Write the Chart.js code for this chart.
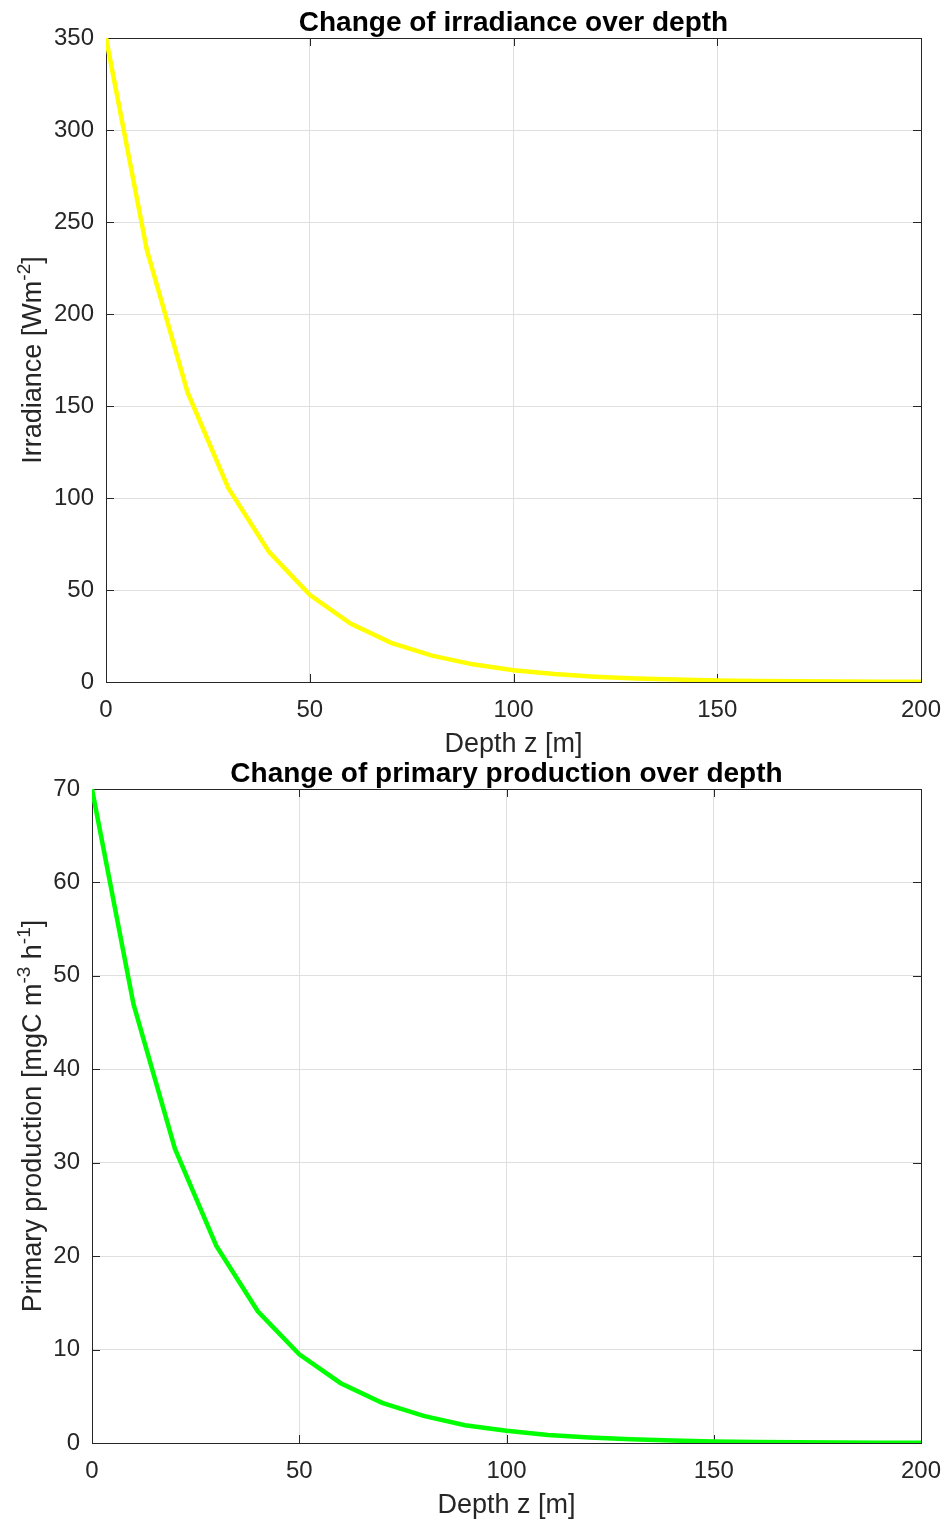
<html>
<head>
<script src="https://cdn.jsdelivr.net/npm/chart.js@4.4.0/dist/chart.umd.min.js"></script>
<style>
  body { margin: 0; background: #fff; }
  #wrap { position: relative; width: 949px; height: 1523px; }
  canvas { position: absolute; left: 0; top: 0; }
</style>
</head>
<body>
<div id="wrap">
  <canvas id="irrChart" width="949" height="1523"></canvas>
  <canvas id="ppChart" width="949" height="1523"></canvas>
</div>
<script>
  // depth in metres
  var depth = [0, 10, 20, 30, 40, 50, 60, 70, 80, 90, 100, 110, 120, 130, 140, 150, 160, 170, 180, 190, 200];
  // irradiance [W m-2]
  var irradiance = [350, 235, 157.5, 105.5, 70.7, 47.4, 31.8, 21.3, 14.3, 9.6, 6.4, 4.3, 2.9, 1.9, 1.3, 0.87, 0.58, 0.39, 0.26, 0.17, 0.12];
  // primary production [mgC m-3 h-1]
  var production = [70, 47, 31.5, 21.1, 14.1, 9.5, 6.4, 4.3, 2.9, 1.9, 1.3, 0.86, 0.58, 0.39, 0.26, 0.17, 0.12, 0.08, 0.05, 0.03, 0.02];

  var depthTicks = [0, 50, 100, 150, 200];
  var irrTicks = [0, 50, 100, 150, 200, 250, 300, 350];
  var ppTicks = [0, 10, 20, 30, 40, 50, 60, 70];

  var FONT = '"Liberation Sans", Arial, Helvetica, sans-serif';
  var AXCOL = '#262626';
  var XAX_H = 70;

  // matlab looking axes: full box, inner ticks, title and labels
  var matlabAxes = {
    id: 'matlabAxes',
    beforeDatasetsDraw(chart, args, opts) {
      var ctx = chart.ctx, a = chart.chartArea;
      var x = chart.scales.x, y = chart.scales.y;
      ctx.save();
      ctx.strokeStyle = AXCOL;
      ctx.lineWidth = 1;
      ctx.beginPath();
      x.ticks.forEach(function (t) {
        var px = Math.round(x.getPixelForValue(t.value)) + 0.5;
        ctx.moveTo(px, a.bottom); ctx.lineTo(px, a.bottom - 8);
        ctx.moveTo(px, a.top); ctx.lineTo(px, a.top + 8);
      });
      y.ticks.forEach(function (t) {
        var py = Math.round(y.getPixelForValue(t.value)) + 0.5;
        ctx.moveTo(a.left, py); ctx.lineTo(a.left + 8, py);
        ctx.moveTo(a.right, py); ctx.lineTo(a.right - 8, py);
      });
      ctx.stroke();
      ctx.strokeRect(Math.round(a.left) + 0.5, Math.round(a.top) + 0.5, Math.round(a.width), Math.round(a.height));
      ctx.restore();
    },
    afterDraw(chart, args, opts) {
      var ctx = chart.ctx, a = chart.chartArea;
      var cx = (a.left + a.right) / 2, cy = (a.top + a.bottom) / 2;
      ctx.save();
      ctx.textAlign = 'center';
      ctx.textBaseline = 'alphabetic';
      ctx.fillStyle = '#000';
      ctx.font = 'bold 28px ' + FONT;
      ctx.fillText(opts.title, cx, a.top - 7);
      ctx.fillStyle = AXCOL;
      ctx.font = '27px ' + FONT;
      ctx.fillText(opts.xLabel, cx, a.bottom + 70);

      // y label with superscripts
      ctx.translate(41, cy);
      ctx.rotate(-Math.PI / 2);
      ctx.textAlign = 'left';
      var total = 0;
      opts.yLabel.forEach(function (p) {
        ctx.font = (p[1] ? '19px ' : '27px ') + FONT;
        total += ctx.measureText(p[0]).width;
      });
      var pos = -total / 2;
      opts.yLabel.forEach(function (p) {
        ctx.font = (p[1] ? '19px ' : '27px ') + FONT;
        ctx.fillText(p[0], pos, p[1] ? -11 : 0);
        pos += ctx.measureText(p[0]).width;
      });
      ctx.restore();
    }
  };

  function makeChart(id, values, color, yMax, yTicks, area, texts) {
    var ctx = document.getElementById(id).getContext('2d');
    return new Chart(ctx, {
      type: 'line',
      data: {
        labels: depth,
        datasets: [{
          data: values.map(function (v, i) { return { x: depth[i], y: v }; }),
          borderColor: color,
          backgroundColor: color,
          borderWidth: 4.5,
          pointRadius: 0,
          tension: 0,
          fill: false
        }]
      },
      options: {
        responsive: false,
        animation: false,
        layout: { padding: { top: area.top, left: 0, right: 949 - area.right, bottom: 1523 - area.bottom - XAX_H } },
        plugins: {
          legend: { display: false },
          tooltip: { enabled: false },
          matlabAxes: texts
        },
        scales: {
          x: {
            type: 'linear',
            min: 0, max: 200,
            afterBuildTicks: function (s) { s.ticks = depthTicks.map(function (v) { return { value: v }; }); },
            afterFit: function (s) { s.height = XAX_H; s.paddingLeft = 0; s.paddingRight = 0; },
            grid: { color: '#dfdfdf', drawTicks: false },
            border: { display: false },
            ticks: { color: AXCOL, font: { family: FONT, size: 24 }, padding: 14, maxRotation: 0 }
          },
          y: {
            min: 0, max: yMax,
            afterBuildTicks: function (s) { s.ticks = yTicks.map(function (v) { return { value: v }; }); },
            afterFit: function (s) { s.width = area.left; s.paddingTop = 0; s.paddingBottom = 0; },
            grid: { color: '#dfdfdf', drawTicks: false },
            border: { display: false },
            ticks: { color: AXCOL, font: { family: FONT, size: 24 }, padding: 12 }
          }
        }
      },
      plugins: [matlabAxes]
    });
  }

  makeChart('irrChart', irradiance, '#ffff00', 350, irrTicks,
    { left: 106, right: 921, top: 38, bottom: 682 },
    { title: 'Change of irradiance over depth', xLabel: 'Depth z [m]',
      yLabel: [['Irradiance [Wm', 0], ['-2', 1], [']', 0]] });

  makeChart('ppChart', production, '#00ff00', 70, ppTicks,
    { left: 92, right: 921, top: 789, bottom: 1443 },
    { title: 'Change of primary production over depth', xLabel: 'Depth z [m]',
      yLabel: [['Primary production [mgC m', 0], ['-3', 1], [' h', 0], ['-1', 1], [']', 0]] });
</script>
</body>
</html>
